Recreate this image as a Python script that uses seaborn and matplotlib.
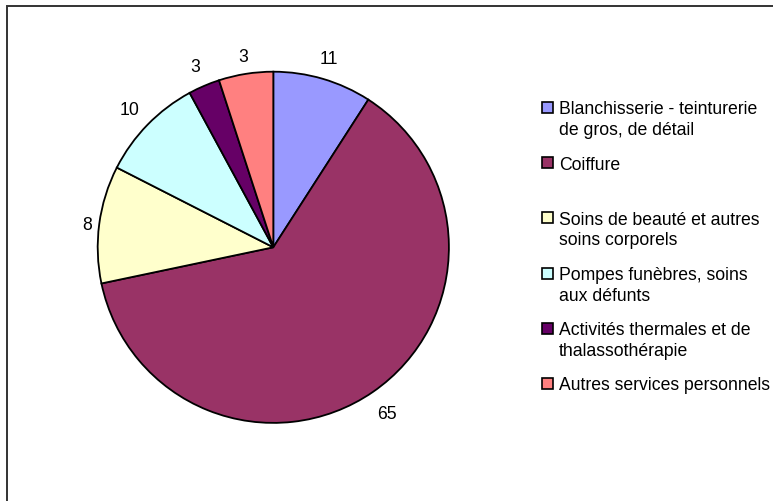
import matplotlib
matplotlib.use('Agg')
import numpy as np
import matplotlib.pyplot as plt
import seaborn as sns
from matplotlib.patches import Rectangle

# Données
categories = ['Blanchisserie - teinturerie\nde gros, de détail',
              'Coiffure',
              'Soins de beauté et autres\nsoins corporels',
              'Pompes funèbres, soins\naux défunts',
              'Activités thermales et de\nthalassothérapie',
              'Autres services personnels']
parts = [9.1, 62.6, 10.8, 9.6, 2.9, 5.0]        # taille des secteurs
etiquettes = ['11', '65', '8', '10', '3', '3']  # valeurs affichées
couleurs = ['#9999FF', '#993366', '#FFFFCC', '#CCFFFF', '#660066', '#FF8080']

# distance des étiquettes au centre (en rayons)
dist_etiquettes = [1.13, 1.14, 1.07, 1.14, 1.13, 1.11]

sns.set_theme(style='white')
plt.rcParams['font.family'] = ['Liberation Sans', 'DejaVu Sans']

W, H = 773, 502
fig = plt.figure(figsize=(W / 100, H / 100), dpi=100)
fig.patch.set_facecolor('white')

# Camembert
r = 175.6
cx, cy = 273.3, 248.3
lim = 1.3
taille = 2 * lim * r
ax = fig.add_axes([(cx - taille / 2) / W, (H - cy - taille / 2) / H, taille / W, taille / H])
wedges, _ = ax.pie(parts, colors=couleurs, startangle=90, counterclock=False,
                   wedgeprops=dict(edgecolor='black', linewidth=1.3))
for w, lab, d in zip(wedges, etiquettes, dist_etiquettes):
    a = np.deg2rad((w.theta1 + w.theta2) / 2)
    ax.text(d * np.cos(a), d * np.sin(a) - 0.01, lab, fontsize=12.7, color='black',
            ha='center', va='center')
ax.set_xlim(-lim, lim)
ax.set_ylim(-lim, lim)
ax.set_aspect('equal')
ax.axis('off')

# Légende
x_carre, x_texte = 542, 559
y0, pas, interligne = 108.5, 55.2, 20.5
for i, (lab, c) in enumerate(zip(categories, couleurs)):
    y = y0 + i * pas
    fig.add_artist(Rectangle((x_carre / W, (H - y - 5.5) / H), 11 / W, 11 / H,
                             transform=fig.transFigure, facecolor=c,
                             edgecolor='black', linewidth=1.2))
    for j, ligne in enumerate(lab.split('\n')):
        fig.text(x_texte / W, (H - y - j * interligne - 1.5) / H, ligne,
                 fontsize=12.7, color='black', ha='left', va='center')

# Cadre
fig.add_artist(Rectangle((7.5 / W, -0.1), 1.2, 1.1 - 6.5 / H,
                         transform=fig.transFigure, fill=False,
                         edgecolor='#333333', linewidth=1.4))

fig.savefig('out.png', dpi=100)
